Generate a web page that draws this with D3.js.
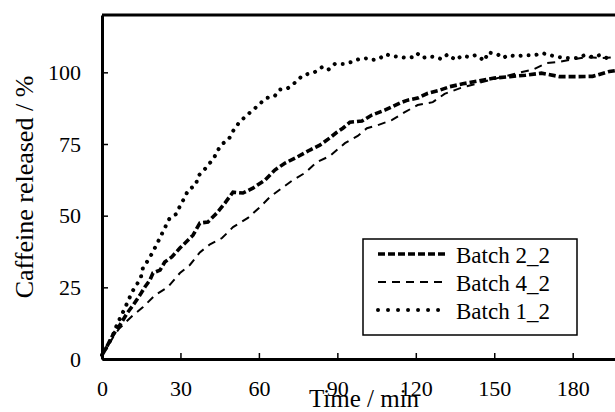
<!DOCTYPE html>
<html>
<head>
<meta charset="utf-8">
<script src="https://cdn.jsdelivr.net/npm/d3@7"></script>
<style>
  body { margin: 0; background: #fff; }
  svg text { font-family: "Liberation Serif", Tinos, "Times New Roman", Times, "DejaVu Serif", serif !important; fill: #000; }
</style>
</head>
<body>
<script>
// time (min) and released (%), per batch
var timeBatch1 = [0,0.5,1.9,4.2,5.7,7.3,8.8,10.3,11.5,13.4,14.9,15.7,18,21,22.5,24,25.7,28.3,29.8,31.7,33,35.9,36.7,39,40.9,42.8,44.3,46,48.5,50.1,52.3,54.6,57,58.8,60.8,62.7,66,68,71.1,74.5,76.4,79.5,81.4,84.1,86.4,89,92.1,95.5,98.2,101.3,103.2,105.8,108.5,111.2,114.3,116.5,118.5,120.4,122.7,125,127.6,129.9,132.2,135.3,137.6,140.6,142.9,146.4,147.5,151.3,153.2,155.5,158.6,161.6,165.5,168.5,171.2,175,178,181.5,184.6,187.6,190.3,193,195.3];
var valBatch1  = [1.4,2.4,4.2,8.4,11.9,15,17.8,20.9,23.4,26.1,28.6,32,34.9,40.1,42.9,45.7,48.8,50.5,53.3,56.5,59,60.7,63.8,65.9,68,70.1,72.9,75,76.7,79.5,82.3,84.4,86.3,87.7,89.4,91,91.7,94,94.5,96.9,98.7,99.7,100.1,101.8,100.8,102.9,102.9,103.6,104.6,104.9,104.3,104.6,106.3,105.6,105.3,105,105.3,106.7,105,105.6,105.3,104.6,106.3,104.3,105.8,105.3,106,104,107,106.3,105,106,105.6,106,106,106.7,106,105.3,105,105,106,105.3,106,105,105.3];

var timeBatch2 = [0,1.1,4.2,6.9,9.6,11.9,14.5,16.4,18.3,19.5,22.2,24,26.7,29.8,31.7,34.8,37.4,40.5,43.9,47,50.1,53.9,57.7,62.3,66.1,69.9,74.5,79.5,83.3,87.1,89.8,92.1,94.8,99.4,103.2,108.1,113.9,116.9,120.7,124.6,129.2,133,138,144,150,156,162,168,175,181.5,187.6,194,197];
var valBatch2  = [1.4,3.1,8.4,11.9,16,18.8,22.3,25.1,27.5,30,31,33.8,35.6,38.7,40.4,43.2,47.4,47.8,50.9,54.4,58.2,57.9,59.6,62.4,65.9,68.3,70.4,72.9,74.6,77.1,79.1,80.5,82.6,83,85.1,86.8,89.3,90.3,91,92.7,93.8,95,96,97,98,98.5,99,99.7,98.5,98.5,98.6,100.3,100.7];

var timeBatch4 = [0,2,4.5,6.5,8.8,11.9,15.7,20.3,25.2,29.8,33.6,37.4,41.3,45.9,50.1,55.8,60.4,64.2,68.8,73,77.6,82.2,87.1,89.8,92.9,97.8,101.3,105.5,110.8,115.8,120.7,126.5,131,137,143,149,155,160,165,170,174.2,178.8,185.3,191.4,196];
var valBatch4  = [1.4,4,8,10.5,12.6,15.3,18.1,22.3,25.1,30,32.8,37.2,40,42.2,46,49.2,53,56.5,59.6,62.4,64.9,68.7,70.8,72.9,75.3,77.8,80.5,81.6,83.3,86.1,88.6,89.6,92.5,94.5,96,97.5,98.8,100,101,103.2,103.6,104.3,105.3,105,105.3];

var seriesNames = ["Batch 2_2", "Batch 4_2", "Batch 1_2"];
var xTicks = [0, 30, 60, 90, 120, 150, 180];
var yTicks = [0, 25, 50, 75, 100];

(function() {
  'use strict';

  var width = 615,
      height = 412,
      margin = {left: 102, top: 15, bottom: 53};

  var svg = d3.select("body").append("svg")
              .attr("width", width)
              .attr("height", height);

  var x = d3.scaleLinear().domain([0, 200]).range([margin.left, margin.left + 523]);
  var y = d3.scaleLinear().domain([0, 120]).range([height - margin.bottom, margin.top]);

  var series = [
    {name: seriesNames[0], t: timeBatch2, v: valBatch2, w: 3.6, dash: "7 3", cap: "butt"},
    {name: seriesNames[1], t: timeBatch4, v: valBatch4, w: 2, dash: "8 6", cap: "butt"},
    {name: seriesNames[2], t: timeBatch1, v: valBatch1, w: 4, dash: "0.01 8", cap: "round"}
  ];

  var line = d3.line()
      .x(function(d) { return x(d[0]); })
      .y(function(d) { return y(d[1]); });

  svg.selectAll("path.series").data(series).enter()
     .append("path")
     .attr("class", "series")
     .attr("d", function(s) { return line(d3.zip(s.t, s.v)); })
     .attr("fill", "none")
     .attr("stroke", "#000")
     .attr("stroke-width", function(s) { return s.w; })
     .attr("stroke-dasharray", function(s) { return s.dash; })
     .attr("stroke-linecap", function(s) { return s.cap; });

  // axes, ticks inside
  var xAxis = svg.append("g")
     .attr("transform", "translate(0," + y(0) + ")")
     .call(d3.axisBottom(x).tickValues(xTicks).tickSizeInner(-6).tickSizeOuter(0));
  var yAxis = svg.append("g")
     .attr("transform", "translate(" + x(0) + ",0)")
     .call(d3.axisLeft(y).tickValues(yTicks).tickSizeInner(-6).tickSizeOuter(0).tickPadding(21));

  [xAxis, yAxis].forEach(function(g) {
    g.attr("font-family", null);
    g.select(".domain").attr("stroke-width", 3);
    g.selectAll(".tick line").attr("stroke-width", 1.5);
    g.selectAll(".tick text").attr("font-size", 22);
  });
  xAxis.selectAll(".tick text").attr("dy", null).attr("y", 37);

  // top frame line
  svg.append("line")
     .attr("x1", x(0)).attr("x2", width)
     .attr("y1", y(120)).attr("y2", y(120))
     .attr("stroke", "#000").attr("stroke-width", 3);

  svg.append("text")
     .attr("x", 364).attr("y", 407)
     .attr("text-anchor", "middle")
     .attr("font-size", 25)
     .text("Time / min");

  svg.append("text")
     .attr("transform", "translate(33," + ((y(0) + y(120)) / 2) + ") rotate(-90)")
     .attr("text-anchor", "middle")
     .attr("font-size", 26)
     .text("Caffeine released / %");

  // legend
  var legend = svg.append("g");
  legend.append("rect")
     .attr("x", 363).attr("y", 239)
     .attr("width", 214).attr("height", 96)
     .attr("fill", "#fff").attr("stroke", "#000").attr("stroke-width", 1.5);

  var rows = legend.selectAll("g.row").data(series).enter()
     .append("g")
     .attr("class", "row")
     .attr("transform", function(d, i) { return "translate(0," + (254 + i * 28) + ")"; });

  rows.append("line")
     .attr("x1", 378).attr("x2", 448)
     .attr("stroke", "#000")
     .attr("stroke-width", function(s) { return s.w; })
     .attr("stroke-dasharray", function(s, i) { return i === 2 ? "0.01 10" : s.dash; })
     .attr("stroke-linecap", function(s) { return s.cap; });

  rows.append("text")
     .attr("x", 456).attr("y", 9)
     .attr("font-size", 23)
     .text(function(s) { return s.name; });
})();
</script>
</body>
</html>
